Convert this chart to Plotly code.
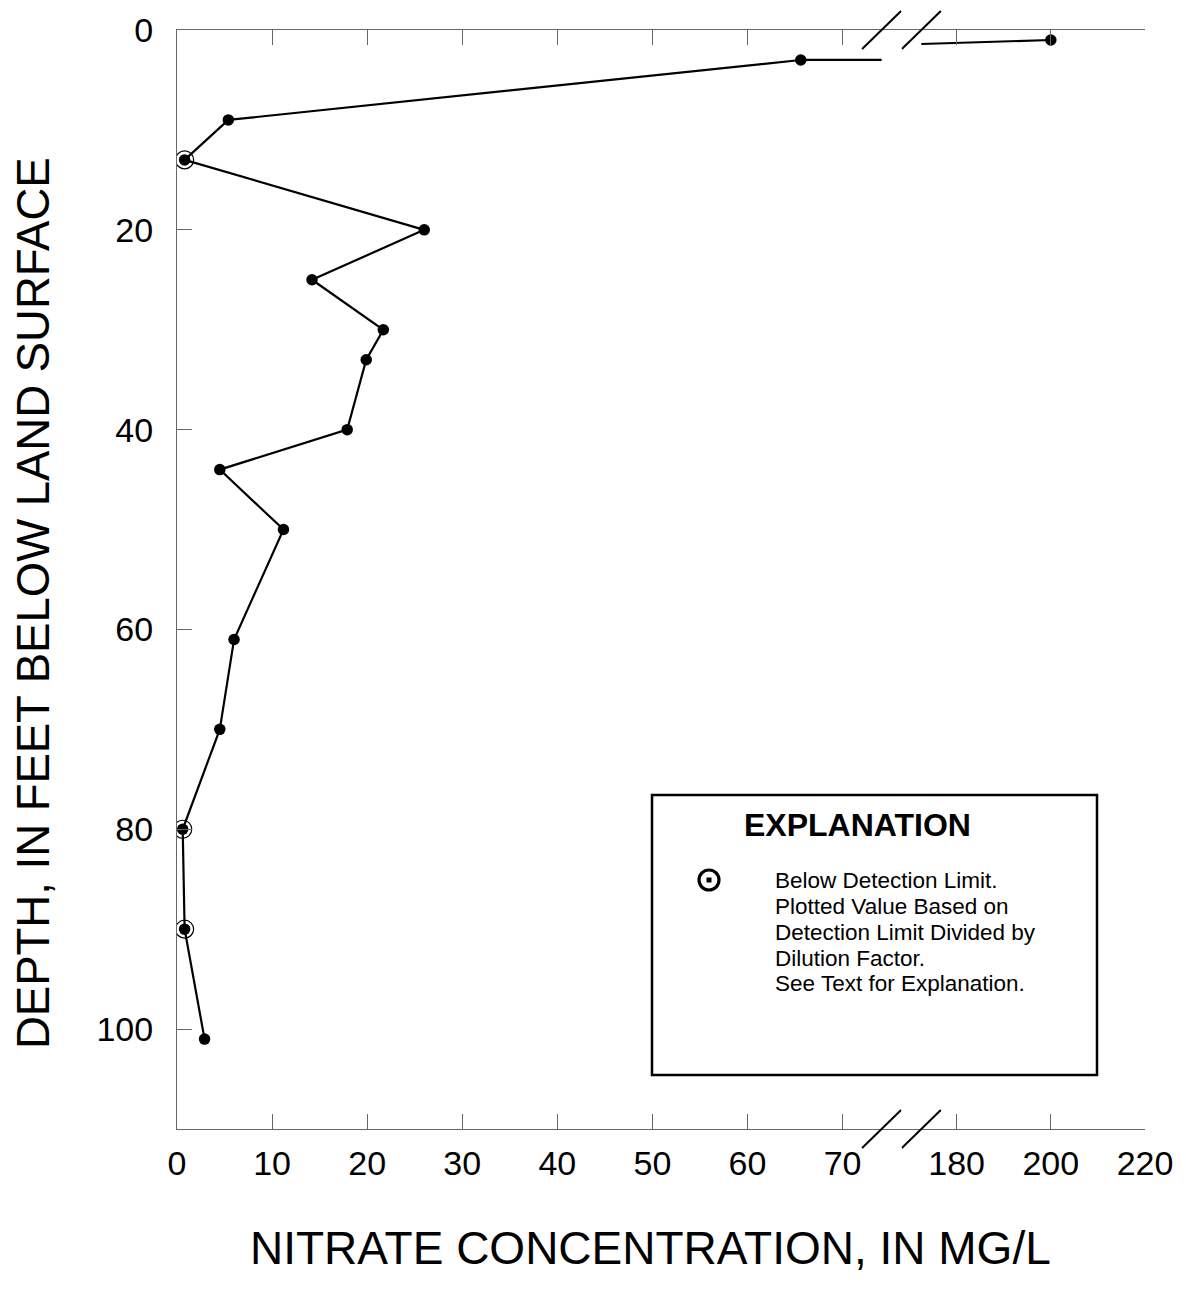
import plotly.graph_objects as go

# Nitrate concentration (mg/L) by sample depth (feet below land surface)
nitrate = [200, 65.6, 5.4, 0.8, 26.0, 14.2, 21.7, 19.9, 17.9, 4.5, 11.2, 6.0, 4.5, 0.6, 0.8, 2.9]
depth = [1, 3, 9, 13, 20, 25, 30, 33, 40, 44, 50, 61, 70, 80, 90, 101]
below_detection = [False, False, False, True, False, False, False, False, False, False,
                   False, False, False, True, True, False]

x_ticks_low = [0, 10, 20, 30, 40, 50, 60, 70]
x_ticks_high = [180, 200, 220]
y_ticks = [0, 20, 40, 60, 80, 100]

# Broken x axis: low segment and high segment
low_range = [0, 76.2]
high_range = [168.3, 220]
split = 0.7485          # paper fraction where the two segments meet
break_low = 74.1        # break mark on the low segment
break_high = 172.5      # break mark on the high segment
break_stub_depth = [3.0, 1.4]  # where the connecting line meets the break marks

W, H = 1186, 1294
ML, MR, MT, MB = 177, 41, 30, 165
PW, PH = W - ML - MR, H - MT - MB
FONT = "Arial, Liberation Sans, sans-serif"


def px(xp):
    return (xp - ML) / PW


def py(yp):
    return (MT + PH - yp) / PH


low_x = [v for v in nitrate if v <= low_range[1]]
low_y = [d for v, d in zip(nitrate, depth) if v <= low_range[1]]
high_x = [v for v in nitrate if v > low_range[1]]
high_y = [d for v, d in zip(nitrate, depth) if v > low_range[1]]

line_style = dict(color="black", width=2.2)
dot = dict(size=11.5, color="black")
fig = go.Figure()

# line into the break on the low segment
fig.add_trace(go.Scatter(x=[low_x[0], break_low], y=[low_y[0], break_stub_depth[0]],
                         mode="lines", line=line_style, xaxis="x", yaxis="y",
                         hoverinfo="skip", showlegend=False))
# line out of the break on the high segment
fig.add_trace(go.Scatter(x=[break_high, high_x[-1]], y=[break_stub_depth[1], high_y[-1]],
                         mode="lines", line=line_style, xaxis="x2", yaxis="y",
                         hoverinfo="skip", showlegend=False))
# profile on the low segment
fig.add_trace(go.Scatter(x=low_x, y=low_y, mode="lines+markers", line=line_style,
                         marker=dot, xaxis="x", yaxis="y", showlegend=False))
# samples on the high segment
fig.add_trace(go.Scatter(x=high_x, y=high_y, mode="markers", marker=dot,
                         xaxis="x2", yaxis="y", showlegend=False))
# rings around samples below detection limit
bx = [v for v, f in zip(nitrate, below_detection) if f]
by = [d for d, f in zip(depth, below_detection) if f]
fig.add_trace(go.Scatter(x=bx, y=by, mode="markers",
                         marker=dict(symbol="circle-open", size=18, color="black",
                                     line=dict(color="black", width=1.2)),
                         xaxis="x", yaxis="y", showlegend=False))

axis_common = dict(showline=True, linecolor="#666", linewidth=1, ticks="inside",
                   ticklen=15, tickcolor="#666", tickwidth=1, showgrid=False,
                   zeroline=False, tickfont=dict(family=FONT, size=34, color="black"))

fig.update_layout(
    width=W, height=H,
    margin=dict(l=ML, r=MR, t=MT, b=MB),
    paper_bgcolor="white", plot_bgcolor="white",
    xaxis=dict(domain=[0, split], range=low_range, tickvals=x_ticks_low,
               mirror="ticks", anchor="y", ticklabelstandoff=4, **axis_common),
    xaxis2=dict(domain=[split, 1], range=high_range, tickvals=x_ticks_high,
                mirror="ticks", anchor="y", ticklabelstandoff=4, **axis_common),
    yaxis=dict(range=[110, 0], tickvals=y_ticks, anchor="x", ticklabelstandoff=16,
               **axis_common),
    yaxis2=dict(range=[110, 0], tickvals=y_ticks, overlaying="y", anchor="x2",
                side="right", showticklabels=False, **axis_common),
)

shapes = []
# double-slash break marks at top and bottom of the frame
for ref, anchor in (("x", break_low), ("x2", break_high)):
    for yanc in (0, 1):
        shapes.append(dict(type="line", xref=ref, xsizemode="pixel", xanchor=anchor,
                           x0=-19.5, x1=19.5, yref="paper", ysizemode="pixel",
                           yanchor=yanc, y0=-19, y1=19,
                           line=dict(color="black", width=2)))

# explanation box
shapes.append(dict(type="rect", xref="paper", yref="paper",
                   x0=px(652), x1=px(1097), y0=py(1075), y1=py(795),
                   line=dict(color="black", width=2.5), fillcolor="white", layer="above"))
# explanation symbol: ring with dot
shapes.append(dict(type="circle", xref="paper", yref="paper", xsizemode="pixel",
                   ysizemode="pixel", xanchor=px(709), yanchor=py(880),
                   x0=-10, x1=10, y0=-10, y1=10,
                   line=dict(color="black", width=3.2), layer="above"))
shapes.append(dict(type="rect", xref="paper", yref="paper", xsizemode="pixel",
                   ysizemode="pixel", xanchor=px(709), yanchor=py(880),
                   x0=-2.5, x1=2.5, y0=-2.5, y1=2.5,
                   line=dict(width=0), fillcolor="black", layer="above"))
fig.update_layout(shapes=shapes)

annotations = [
    dict(text="NITRATE CONCENTRATION, IN MG/L", x=px(650), y=py(1248),
         font=dict(family=FONT, size=46, color="black")),
    dict(text="DEPTH, IN FEET BELOW LAND SURFACE", x=px(33), y=py(603), textangle=-90,
         font=dict(family=FONT, size=45.5, color="black")),
    dict(text="<b>EXPLANATION</b>", x=px(857), y=py(825),
         font=dict(family=FONT, size=32, color="black")),
]
legend_lines = ["Below Detection Limit.", "Plotted Value Based on",
                "Detection Limit Divided by", "Dilution Factor.",
                "See Text for Explanation."]
for i, t in enumerate(legend_lines):
    annotations.append(dict(text=t, x=px(774), y=py(880 + 26 * i), xanchor="left",
                            borderpad=0,
                            font=dict(family=FONT, size=22.5, color="black")))
for a in annotations:
    a.update(xref="paper", yref="paper", showarrow=False)
    a.setdefault("xanchor", "center")
    a.setdefault("yanchor", "middle")
fig.update_layout(annotations=annotations)

fig.write_html("out.html")
